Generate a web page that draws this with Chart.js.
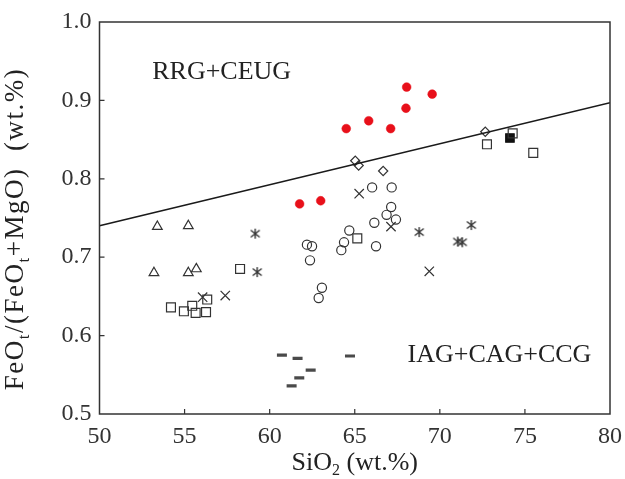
<!DOCTYPE html>
<html>
<head>
<meta charset="utf-8">
<script src="https://cdn.jsdelivr.net/npm/chart.js@4"></script>
<style>
  html, body { margin: 0; padding: 0; background: #fff; }
  #wrap { width: 625px; height: 479px; }
</style>
</head>
<body>
<div id="wrap"><canvas id="chart"></canvas></div>
<script>
// axis ticks
const xTicks = [50, 55, 60, 65, 70, 75, 80];
const yTicks = [0.5, 0.6, 0.7, 0.8, 0.9, 1.0];

// discrimination line RRG+CEUG / IAG+CAG+CCG
const boundaryX = [50, 80];
const boundaryY = [0.74, 0.897];

// samples, one pair of arrays per symbol
const redX = [68.05, 69.55, 68.01, 65.82, 64.50, 67.11, 61.76, 63.00];
const redY = [0.917, 0.908, 0.890, 0.874, 0.864, 0.864, 0.768, 0.772];

const circleX = [66.02, 67.17, 67.14, 66.87, 67.42, 66.15, 64.68, 64.37, 64.21, 62.19, 62.49, 62.37, 66.25, 63.07, 62.88];
const circleY = [0.789, 0.789, 0.764, 0.754, 0.748, 0.744, 0.734, 0.719, 0.709, 0.716, 0.714, 0.696, 0.714, 0.661, 0.648];

const squareX = [58.26, 54.20, 54.96, 55.45, 55.65, 56.26, 56.33, 65.15, 72.77, 74.28, 75.49];
const squareY = [0.685, 0.636, 0.631, 0.638, 0.629, 0.630, 0.646, 0.724, 0.844, 0.858, 0.833];

const solidSquareX = [74.12];
const solidSquareY = [0.852];

const triangleX = [53.40, 55.22, 53.20, 55.22, 55.69];
const triangleY = [0.739, 0.740, 0.680, 0.680, 0.685];

const diamondX = [65.03, 65.23, 66.67, 72.67];
const diamondY = [0.823, 0.817, 0.810, 0.860];

const crossX = [56.06, 57.39, 65.26, 67.13, 69.38];
const crossY = [0.649, 0.651, 0.781, 0.739, 0.682];

const starX = [59.15, 59.27, 68.79, 71.85, 71.05, 71.32];
const starY = [0.730, 0.681, 0.732, 0.741, 0.720, 0.719];

const dashX = [60.72, 61.64, 62.41, 61.74, 61.29, 64.72];
const dashY = [0.575, 0.571, 0.556, 0.546, 0.536, 0.574];

// field names and where they sit (data coords)
const fieldNames = ['RRG+CEUG', 'IAG+CAG+CCG'];
const fieldX = [53.1, 68.1];
const fieldY = [0.936, 0.575];

const FONT = '"Liberation Serif", "Times New Roman", serif';
const INK = '#333';

const pts = (xs, ys) => xs.map((x, i) => ({ x, y: ys[i] }));

// x with a vertical bar through it
function makeStar(size, color) {
    const c = document.createElement('canvas');
    c.width = c.height = size;
    const g = c.getContext('2d');
    g.strokeStyle = color;
    g.lineWidth = 1.4;
    const a = 1.5, b = size - 1.5, h = size / 2;
    g.beginPath();
    g.moveTo(a, a + 1); g.lineTo(b, b - 1);
    g.moveTo(b, a + 1); g.lineTo(a, b - 1);
    g.moveTo(h, a - 0.5); g.lineTo(h, b + 0.5);
    g.stroke();
    return c;
}

function marker(data, style, radius, extra) {
    return Object.assign({
        data: data,
        pointStyle: style,
        pointRadius: radius,
        pointHoverRadius: radius,
        pointBorderColor: INK,
        pointBackgroundColor: 'rgba(0,0,0,0)',
        pointBorderWidth: 1.2
    }, extra || {});
}

// text with subscripts, centred on (cx, cy)
function drawRich(ctx, parts, cx, cy, size, spacing) {
    const big = size + 'px ' + FONT;
    const small = Math.round(size * 0.62) + 'px ' + FONT;
    ctx.letterSpacing = (spacing || 0) + 'px';
    let w = 0;
    parts.forEach(p => { ctx.font = p.sub ? small : big; w += ctx.measureText(p.t).width; });
    let x = cx - w / 2;
    ctx.textAlign = 'left';
    ctx.textBaseline = 'middle';
    parts.forEach(p => {
        ctx.font = p.sub ? small : big;
        ctx.fillText(p.t, x, p.sub ? cy + size * 0.3 : cy);
        x += ctx.measureText(p.t).width;
    });
    ctx.letterSpacing = '0px';
}

const framePlugin = {
    id: 'frame',
    afterDatasetsDraw(chart) {
        const { ctx, chartArea: a, scales: { x, y } } = chart;
        ctx.save();
        ctx.strokeStyle = INK;
        ctx.lineWidth = 1.5;
        ctx.strokeRect(a.left, a.top, a.right - a.left, a.bottom - a.top);

        // inward ticks
        ctx.lineWidth = 1.2;
        ctx.beginPath();
        xTicks.slice(1, -1).forEach(v => {
            const px = x.getPixelForValue(v);
            ctx.moveTo(px, a.bottom);
            ctx.lineTo(px, a.bottom - 5);
        });
        yTicks.slice(1, -1).forEach(v => {
            const py = y.getPixelForValue(v);
            ctx.moveTo(a.left, py);
            ctx.lineTo(a.left + 5, py);
        });
        ctx.stroke();

        ctx.fillStyle = '#222';
        ctx.font = '26px ' + FONT;
        ctx.textAlign = 'left';
        ctx.textBaseline = 'middle';
        fieldNames.forEach((t, i) => {
            ctx.fillText(t, x.getPixelForValue(fieldX[i]), y.getPixelForValue(fieldY[i]));
        });

        // axis titles
        drawRich(ctx, [{ t: 'SiO' }, { t: '2', sub: true }, { t: ' (wt.%)' }],
            (a.left + a.right) / 2, 463, 26);

        ctx.translate(16, 229);
        ctx.rotate(-Math.PI / 2);
        drawRich(ctx, [{ t: 'FeO' }, { t: 't', sub: true }, { t: '/(FeO' }, { t: 't', sub: true },
            { t: '+MgO)  (wt.%)' }], 0, 0, 27, 1.5);
        ctx.restore();
    }
};

new Chart(document.getElementById('chart'), {
    type: 'scatter',
    data: {
        datasets: [
            {
                data: pts(boundaryX, boundaryY),
                showLine: true,
                borderColor: '#1a1a1a',
                borderWidth: 1.6,
                pointRadius: 0,
                pointHoverRadius: 0
            },
            marker(pts(squareX, squareY), 'rect', 6.3),
            marker(pts(solidSquareX, solidSquareY), 'rect', 6, { pointBackgroundColor: '#111', pointBorderColor: '#111' }),
            marker(pts(triangleX, triangleY), 'triangle', 5.6),
            marker(pts(diamondX, diamondY), 'rectRot', 4.6),
            marker(pts(circleX, circleY), 'circle', 4.6),
            marker(pts(crossX, crossY), 'crossRot', 6.6),
            marker(pts(starX, starY), makeStar(12, INK), 6),
            marker(pts(dashX, dashY), 'line', 5, { pointBorderColor: '#4a4a4a', pointBorderWidth: 3.2 }),
            marker(pts(redX, redY), 'circle', 4.4, { pointBackgroundColor: '#e8101a', pointBorderColor: '#e8101a', pointBorderWidth: 0.5 })
        ]
    },
    options: {
        responsive: true,
        maintainAspectRatio: false,
        animation: false,
        layout: { padding: { top: 22, right: 15, left: 0, bottom: 0 } },
        plugins: {
            legend: { display: false },
            tooltip: { enabled: false }
        },
        scales: {
            x: {
                type: 'linear',
                min: 50, max: 80,
                afterFit: s => { s.height = 65; s.paddingLeft = 0; s.paddingRight = 0; },
                afterBuildTicks: s => { s.ticks = xTicks.map(v => ({ value: v })); },
                grid: { display: false, drawTicks: false },
                border: { display: false },
                ticks: {
                    padding: 8,
                    color: INK,
                    font: { family: FONT, size: 24 },
                    maxRotation: 0
                }
            },
            y: {
                type: 'linear',
                min: 0.5, max: 1.0,
                afterFit: s => { s.width = 99.5; s.paddingTop = 0; s.paddingBottom = 0; },
                afterBuildTicks: s => { s.ticks = yTicks.map(v => ({ value: v })); },
                grid: { display: false, drawTicks: false },
                border: { display: false },
                ticks: {
                    padding: 8,
                    color: INK,
                    font: { family: FONT, size: 24 },
                    callback: v => v.toFixed(1)
                }
            }
        }
    },
    plugins: [framePlugin]
});
</script>
</body>
</html>
